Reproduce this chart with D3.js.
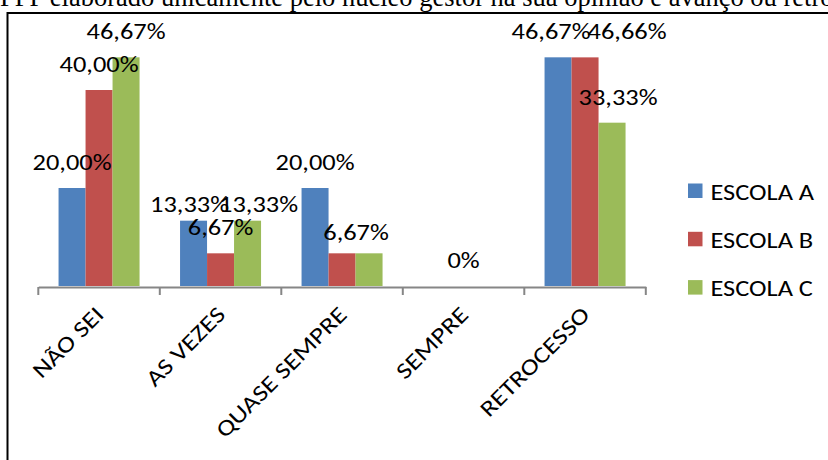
<!DOCTYPE html>
<html lang="pt">
  <head>
    <meta charset="UTF-8" />
    <title>Escolas - gráfico de barras</title>
    <script src="https://d3js.org/d3.v7.min.js"></script>
    <style>
      body {
        margin: 0;
        background: #fff;
      }
      svg {
        display: block;
      }
      .lbl {
        font-family: Carlito, Lato, sans-serif;
        font-size: 22px;
        fill: #000;
      }
      .cat {
        font-size: 22.7px;
      }
    </style>
  </head>
  <body>
    <svg width="828" height="460"></svg>
    <script>
      // dados
      const categories = ["NÃO SEI", "AS VEZES", "QUASE SEMPRE", "SEMPRE", "RETROCESSO"];
      const seriesNames = ["ESCOLA A", "ESCOLA B", "ESCOLA C"];
      const escolaA = [20.0, 13.33, 20.0, 0, 46.67];
      const escolaB = [40.0, 6.67, 6.67, 0, 46.66];
      const escolaC = [46.67, 13.33, 6.67, 0, 33.33];
      // rótulos de dados exibidos (vazio = sem rótulo)
      const labelsA = ["20,00%", "13,33%", "20,00%", "", "46,67%"];
      const labelsB = ["40,00%", "6,67%", "6,67%", "0%", "46,66%"];
      const labelsC = ["46,67%", "13,33%", "", "", "33,33%"];
      const colors = ["#4F81BD", "#C0504D", "#9BBB59"];
      const titleText =
        "PPP elaborado unicamente pelo núcleo gestor na sua opinião e avanço ou retrocesso";

      const values = [escolaA, escolaB, escolaC];
      const labels = [labelsA, labelsB, labelsC];

      // rótulos que foram arrastados à mão no original (dx, dy)
      const nudge = {
        "ESCOLA A|AS VEZES": [-4, 9],
        "ESCOLA C|AS VEZES": [11, 9],
        "ESCOLA B|QUASE SEMPRE": [14, 5],
        "ESCOLA A|RETROCESSO": [-7, 0],
        "ESCOLA B|RETROCESSO": [42, 0],
        "ESCOLA C|RETROCESSO": [6, 0],
      };

      const STRETCH = 1.2; // texto do original é mais largo que a fonte disponível

      const svg = d3.select("svg");

      // título (cortado no topo, como na imagem original)
      svg.append("text")
        .attr("x", 0)
        .attr("y", 6)
        .style("font-family", "'Liberation Serif', 'Times New Roman', serif")
        .style("font-size", "26.5px")
        .text(titleText);

      // moldura do gráfico
      svg.append("rect")
        .attr("x", 7.5)
        .attr("y", 13)
        .attr("width", 900)
        .attr("height", 500)
        .attr("fill", "none")
        .attr("stroke", "#000")
        .attr("stroke-width", 2);

      const plot = { left: 38.3, right: 645.8, top: 41, bottom: 286 };

      const x0 = d3.scaleBand()
        .domain(categories)
        .range([plot.left, plot.right])
        .padding(0);

      const bw = x0.bandwidth();
      const x1 = d3.scaleBand()
        .domain(seriesNames)
        .range([bw * 0.75 / 4.5, bw * (1 - 0.75 / 4.5)])
        .padding(0);

      const y = d3.scaleLinear().domain([0, 50]).range([plot.bottom, plot.top]);

      const rows = [];
      seriesNames.forEach((s, si) => {
        categories.forEach((c, ci) => {
          rows.push({ cat: c, series: s, si: si, value: values[si][ci], label: labels[si][ci] });
        });
      });

      // barras
      svg.append("g")
        .selectAll("rect")
        .data(rows.filter((d) => d.value > 0))
        .join("rect")
        .attr("x", (d) => x0(d.cat) + x1(d.series))
        .attr("y", (d) => y(d.value))
        .attr("width", x1.bandwidth())
        .attr("height", (d) => y(0) - y(d.value))
        .attr("fill", (d) => colors[d.si]);

      // eixo horizontal
      const axisY = plot.bottom + 1;
      const axis = svg.append("g")
        .attr("transform", `translate(0, ${axisY})`)
        .call(d3.axisBottom(x0).tickSize(0).tickPadding(0));

      axis.select(".domain").attr("stroke", "#868686").attr("stroke-width", 2);

      // marcas entre categorias
      const bounds = categories.map((c) => x0(c)).concat([plot.right]);
      axis.selectAll(".bound")
        .data(bounds)
        .join("line")
        .attr("class", "bound")
        .attr("x1", (d) => d)
        .attr("x2", (d) => d)
        .attr("y1", 0)
        .attr("y2", 8)
        .attr("stroke", "#868686")
        .attr("stroke-width", 2);

      axis.selectAll(".tick text")
        .attr("class", "lbl cat")
        .attr("font-family", null)
        .attr("font-size", null)
        .attr("fill", "#000")
        .attr("text-anchor", "end")
        .attr("y", 0)
        .attr("dy", 0)
        .attr("transform", `translate(6, 29) rotate(-45) scale(${STRETCH}, 1)`);

      // rótulos de dados
      svg.append("g")
        .selectAll("text")
        .data(rows.filter((d) => d.label !== ""))
        .join("text")
        .attr("class", "lbl")
        .attr("text-anchor", "middle")
        .attr("transform", (d) => {
          const n = nudge[d.series + "|" + d.cat] || [0, 0];
          const tx = x0(d.cat) + x1(d.series) + x1.bandwidth() / 2 + n[0];
          const ty = y(d.value) - 18 + n[1];
          return `translate(${tx}, ${ty}) scale(${STRETCH}, 1)`;
        })
        .text((d) => d.label);

      // legenda
      const legend = svg.append("g")
        .selectAll("g")
        .data(seriesNames)
        .join("g")
        .attr("transform", (d, i) => `translate(688, ${183.5 + i * 48.3})`);

      legend.append("rect")
        .attr("width", 14.5)
        .attr("height", 14.5)
        .attr("fill", (d, i) => colors[i]);

      legend.append("text")
        .attr("class", "lbl")
        .attr("transform", `translate(22.5, 16) scale(${STRETCH}, 1)`)
        .text((d) => d);
    </script>
  </body>
</html>
